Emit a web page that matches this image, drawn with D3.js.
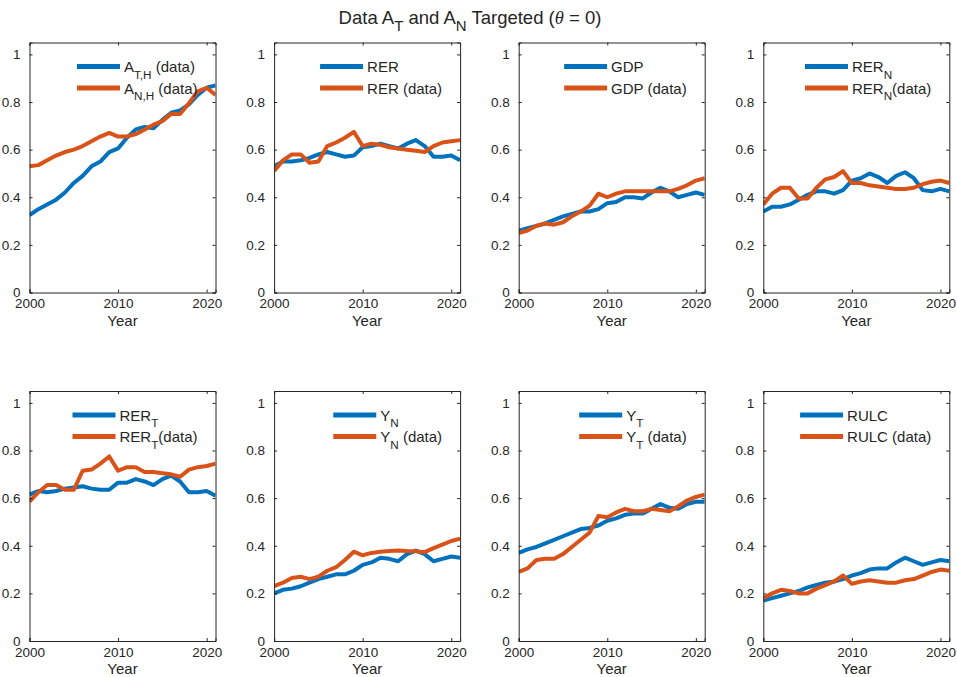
<!DOCTYPE html>
<html lang="en">
<head>
<meta charset="utf-8">
<title>Data A_T and A_N Targeted</title>
<script src="https://d3js.org/d3.v7.min.js"></script>
<style>
  body { margin: 0; background: #fff; }
  svg { font-family: "Liberation Sans", Arial, Helvetica, sans-serif; }
  .axis path, .axis line { stroke: #262626; }
  .axis text { fill: #262626; font-size: 13.5px; }
</style>
</head>
<body>
<svg id="chart" width="957" height="677"></svg>
<script>
// years on the x axis
var years = d3.range(2000, 2022);
var yTicks = [0, 0.2, 0.4, 0.6, 0.8, 1];
var xTicks = [2000, 2010, 2020];

// panel 1: A_T,H / A_N,H
var aTH = [0.325,0.35,0.37,0.39,0.42,0.46,0.49,0.53,0.55,0.59,0.605,0.65,0.685,0.695,0.69,0.725,0.755,0.765,0.79,0.83,0.86,0.87];
var aNH = [0.53,0.535,0.555,0.575,0.59,0.60,0.615,0.635,0.655,0.67,0.655,0.655,0.665,0.685,0.705,0.72,0.75,0.75,0.795,0.845,0.86,0.83];
// panel 2: RER
var rerModel = [0.53,0.55,0.55,0.555,0.565,0.58,0.59,0.58,0.57,0.575,0.61,0.615,0.625,0.615,0.605,0.625,0.64,0.615,0.57,0.57,0.575,0.555];
var rerData  = [0.51,0.555,0.58,0.58,0.545,0.55,0.615,0.63,0.65,0.675,0.615,0.625,0.62,0.61,0.605,0.60,0.595,0.59,0.615,0.63,0.635,0.64];
// panel 3: GDP
var gdpModel = [0.26,0.27,0.28,0.29,0.305,0.32,0.33,0.34,0.34,0.35,0.375,0.38,0.40,0.40,0.395,0.42,0.44,0.425,0.40,0.41,0.42,0.41];
var gdpData  = [0.25,0.26,0.28,0.29,0.285,0.295,0.32,0.34,0.365,0.415,0.40,0.415,0.425,0.425,0.425,0.425,0.425,0.425,0.435,0.45,0.47,0.48];
// panel 4: RER_N
var rerNModel = [0.34,0.36,0.36,0.37,0.39,0.41,0.425,0.425,0.415,0.43,0.47,0.48,0.50,0.485,0.46,0.49,0.505,0.48,0.43,0.425,0.435,0.425];
var rerNData  = [0.37,0.415,0.44,0.44,0.395,0.395,0.44,0.475,0.485,0.51,0.46,0.46,0.45,0.445,0.44,0.435,0.435,0.44,0.455,0.465,0.47,0.46];
// panel 5: RER_T
var rerTModel = [0.615,0.63,0.625,0.63,0.64,0.645,0.65,0.64,0.635,0.635,0.665,0.665,0.68,0.67,0.655,0.68,0.695,0.67,0.625,0.625,0.63,0.61];
var rerTData  = [0.585,0.625,0.655,0.655,0.635,0.635,0.715,0.72,0.745,0.775,0.715,0.73,0.73,0.71,0.71,0.705,0.70,0.69,0.72,0.73,0.735,0.745];
// panel 6: Y_N
var yNModel = [0.20,0.215,0.22,0.23,0.245,0.26,0.27,0.28,0.28,0.295,0.32,0.33,0.35,0.345,0.335,0.365,0.38,0.365,0.335,0.345,0.355,0.35];
var yNData  = [0.23,0.245,0.265,0.27,0.26,0.27,0.295,0.31,0.34,0.375,0.36,0.37,0.375,0.378,0.38,0.378,0.377,0.373,0.39,0.405,0.42,0.43];
// panel 7: Y_T
var yTModel = [0.37,0.385,0.395,0.41,0.425,0.44,0.455,0.47,0.475,0.485,0.505,0.515,0.53,0.535,0.535,0.555,0.575,0.56,0.555,0.575,0.585,0.585];
var yTData  = [0.29,0.305,0.34,0.345,0.345,0.365,0.395,0.425,0.455,0.525,0.52,0.54,0.555,0.545,0.545,0.555,0.55,0.545,0.565,0.59,0.605,0.615];
// panel 8: RULC
var rulcModel = [0.17,0.18,0.19,0.20,0.21,0.225,0.235,0.245,0.25,0.26,0.275,0.285,0.30,0.305,0.305,0.33,0.35,0.335,0.32,0.33,0.34,0.335];
var rulcData  = [0.18,0.20,0.215,0.21,0.20,0.20,0.22,0.235,0.25,0.275,0.24,0.25,0.255,0.25,0.245,0.245,0.255,0.26,0.275,0.29,0.30,0.295];

// legend labels: [text, subscript, rest]
var labels = [
  [["A","T,H"," (data)"], ["A","N,H"," (data)"]],
  [["RER","",""], ["RER",""," (data)"]],
  [["GDP","",""], ["GDP",""," (data)"]],
  [["RER","N",""], ["RER","N","(data)"]],
  [["RER","T",""], ["RER","T","(data)"]],
  [["Y","N",""], ["Y","N"," (data)"]],
  [["Y","T",""], ["Y","T"," (data)"]],
  [["RULC","",""], ["RULC",""," (data)"]]
];
var series = [
  [aTH, aNH], [rerModel, rerData], [gdpModel, gdpData], [rerNModel, rerNData],
  [rerTModel, rerTData], [yNModel, yNData], [yTModel, yTData], [rulcModel, rulcData]
];
var colors = ["#0072BD", "#D95319"];

var svg = d3.select("#chart");
var pw = 186, ph = 250;

function addLabel(sel, parts, size) {
  sel.append("tspan").text(parts[0]);
  if (parts[1]) {
    sel.append("tspan").attr("font-size", size * 0.78).attr("dy", size * 0.45).text(parts[1]);
    sel.append("tspan").attr("dy", -size * 0.45).text(parts[2]);
  } else {
    sel.append("tspan").text(parts[2]);
  }
}

series.forEach(function(s, i) {
  var col = i % 4, row = Math.floor(i / 4);
  var left = 29.5 + col * 244.6, top = row === 0 ? 42.5 : 391;
  var g = svg.append("g").attr("transform", "translate(" + left + "," + top + ")");

  var x = d3.scaleLinear().domain([2000, 2021]).range([0, pw]);
  var y = d3.scaleLinear().domain([0, 1.05]).range([ph, 0]);

  var line = d3.line()
    .x(function(d, j) { return x(years[j]); })
    .y(function(d) { return y(d); });

  g.append("clipPath").attr("id", "clip" + i)
    .append("rect").attr("width", pw).attr("height", ph);

  s.forEach(function(vals, k) {
    g.append("path")
      .datum(vals)
      .attr("clip-path", "url(#clip" + i + ")")
      .attr("fill", "none")
      .attr("stroke", colors[k])
      .attr("stroke-width", 4)
      .attr("stroke-linejoin", "round")
      .attr("d", line);
  });

  // box and inward ticks
  g.append("g").attr("class", "axis")
    .call(d3.axisLeft(y).tickValues(yTicks).tickSize(-3).tickPadding(9).tickFormat(d3.format("~g")));
  g.append("g").attr("class", "axis").attr("transform", "translate(" + pw + ",0)")
    .call(d3.axisRight(y).tickValues(yTicks).tickSize(-3).tickFormat(""));
  g.append("g").attr("class", "axis").attr("transform", "translate(0," + ph + ")")
    .call(d3.axisBottom(x).tickValues(xTicks).tickSize(-3).tickPadding(6).tickFormat(d3.format("d")));
  g.append("g").attr("class", "axis")
    .call(d3.axisTop(x).tickValues(xTicks).tickSize(-3).tickFormat(""));
  g.selectAll(".axis .domain").attr("stroke-width", 1);

  g.append("text")
    .attr("x", pw / 2).attr("y", ph + 33)
    .attr("text-anchor", "middle")
    .attr("font-size", 15).attr("fill", "#262626")
    .text("Year");

  // legend, no box, anchored to top right
  var lg = g.append("g");
  labels[i].forEach(function(parts, k) {
    var ly = 24 + k * 21.5;
    lg.append("line")
      .attr("x1", 0).attr("x2", 43).attr("y1", ly).attr("y2", ly)
      .attr("stroke", colors[k]).attr("stroke-width", 5);
    var t = lg.append("text")
      .attr("x", 47).attr("y", ly + 5.5)
      .attr("font-size", 15).attr("fill", "#262626");
    addLabel(t, parts, 15);
  });
  var bw = lg.node().getBBox().width;
  lg.attr("transform", "translate(" + (pw - 18 - bw) + ",0)");
});

// title
var title = svg.append("text")
  .attr("x", 470).attr("y", 24)
  .attr("text-anchor", "middle")
  .attr("font-size", 18.5).attr("fill", "#262626");
title.append("tspan").text("Data A");
title.append("tspan").attr("font-size", 15).attr("dy", 7).text("T");
title.append("tspan").attr("dy", -7).text(" and A");
title.append("tspan").attr("font-size", 15).attr("dy", 7).text("N");
title.append("tspan").attr("dy", -7).text(" Targeted (");
title.append("tspan").attr("font-style", "italic").attr("font-family", "'Liberation Serif', serif").text("θ");
title.append("tspan").text(" = 0)");
</script>
</body>
</html>
